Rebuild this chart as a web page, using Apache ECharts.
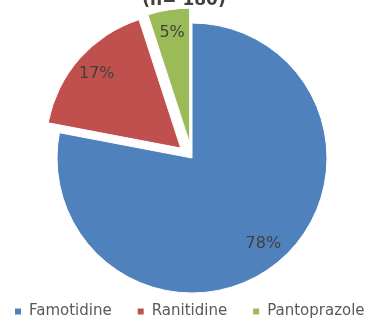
<!DOCTYPE html>
<html>
<head>
<meta charset="utf-8">
<script src="https://cdn.jsdelivr.net/npm/echarts@6/dist/echarts.min.js"></script>
<style>
  html, body { margin: 0; padding: 0; background: #fff; }
  #chart { width: 368px; height: 320px; }
</style>
</head>
<body>
<div id="chart"></div>
<script>
// Share of prescriptions by drug
const drugs = ['Famotidine', 'Ranitidine', 'Pantoprazole'];
const shares = [78, 17, 5];
const colors = ['#4F81BD', '#C0504D', '#9BBB59'];
const exploded = [false, true, true];
const explodeBy = [0, 16, 13];
const titleText = '(n= 180)';

const chart = echarts.init(document.getElementById('chart'), null, { renderer: 'canvas' });

const center = [192, 158];
const outer = 135;

const slices = drugs.map((name, i) => ({
  name: name,
  value: shares[i],
  selected: exploded[i],
  selectedOffset: explodeBy[i],
  itemStyle: { color: colors[i] }
}));

chart.setOption({
  animation: false,
  title: {
    text: titleText,
    left: 'center',
    top: -13,
    textStyle: { fontFamily: 'DejaVu Sans', fontSize: 17, fontWeight: 'bold', color: '#404040' }
  },
  legend: {
    top: 304,
    left: 13,
    width: 420,
    padding: 0,
    itemWidth: 8,
    itemHeight: 8,
    itemGap: 24,
    icon: 'rect',
    data: drugs,
    textStyle: { fontFamily: 'DejaVu Sans', fontSize: 15, color: '#595959', padding: [0, 0, 0, 2] }
  },
  series: [
    {
      type: 'pie',
      center: center,
      radius: [0, outer],
      startAngle: 90,
      clockwise: true,
      selectedMode: 'multiple',
      selectedOffset: 15,
      emphasis: { disabled: true },
      itemStyle: { borderColor: '#fff', borderWidth: 1 },
      label: { show: false },
      labelLine: { show: false },
      data: slices
    },
    {
      // label ring near the outer edge of each slice
      type: 'pie',
      center: center,
      radius: [86, outer - 3],
      startAngle: 90,
      clockwise: true,
      silent: true,
      selectedMode: 'multiple',
      selectedOffset: 15,
      emphasis: { disabled: true },
      itemStyle: { color: 'rgba(0,0,0,0)', borderWidth: 0 },
      label: {
        show: true,
        position: 'inside',
        formatter: '{c}%',
        fontFamily: 'DejaVu Sans',
        fontSize: 16,
        color: '#404040'
      },
      labelLine: { show: false },
      legendHoverLink: false,
      data: drugs.map((name, i) => ({
        name: name,
        value: shares[i],
        selected: exploded[i],
        selectedOffset: explodeBy[i]
      }))
    }
  ]
});
</script>
</body>
</html>
